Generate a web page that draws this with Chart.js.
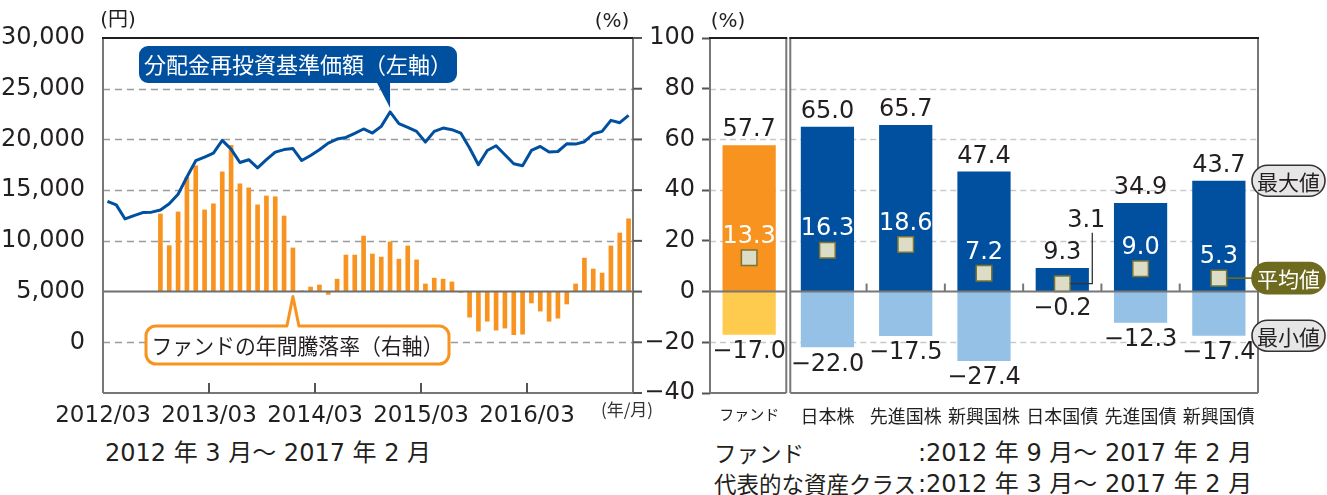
<!DOCTYPE html>
<html lang="ja">
<head>
<meta charset="utf-8">
<script src="https://cdn.jsdelivr.net/npm/chart.js@4.4.1/dist/chart.umd.min.js"></script>
<style>
html, body { margin: 0; padding: 0; background: #fff; }
body { width: 1327px; height: 495px; position: relative; overflow: hidden;
       font-family: "DejaVu Sans", "Noto Sans CJK JP", sans-serif; color: #231f20; }
canvas { position: absolute; top: 0; }
#navChart { left: 0; }
#rangeChart { left: 640px; }
.note { position: absolute; font-size: 24px; line-height: 28px; white-space: nowrap; }
.note.jp { font-size: 22.5px; font-family: "Noto Sans CJK JP", sans-serif; }
</style>
</head>
<body>
<canvas id="navChart" width="660" height="430"></canvas>
<canvas id="rangeChart" width="687" height="430"></canvas>
<div class="note" style="left:105px; top:439px;">2012 年 3 月〜 2017 年 2 月</div>
<div class="note jp" style="left:714px; top:438px;">ファンド</div>
<div class="note" style="left:918px; top:439px;">:2012 年 9 月〜 2017 年 2 月</div>
<div class="note jp" style="left:714px; top:469px;">代表的な資産クラス</div>
<div class="note" style="left:918px; top:470px;">:2012 年 3 月〜 2017 年 2 月</div>
<script>
// 月次ラベル 2012/03 〜 2017/02
const months = [];
for (let k = 0; k < 60; k++) {
    const t = 2 + k;
    months.push((2012 + Math.floor(t / 12)) + '/' + String(t % 12 + 1).padStart(2, '0'));
}

// 分配金再投資基準価額(円)
const navValues = [
    13900, 13550, 12160, 12490, 12790, 12830, 13050, 13650, 14600, 16290,
    17900, 18260, 18660, 19900, 19050, 17730, 18000, 17200, 18000, 18750,
    19000, 19100, 17920, 18420, 18980, 19640, 20040, 20200, 20600, 21030,
    20630, 21290, 22710, 21550, 21190, 20790, 19740, 20790, 21120, 20960,
    20630, 19150, 17500, 18910, 19380, 18490, 17600, 17400, 18910, 19310,
    18750, 18810, 19570, 19540, 19770, 20560, 20790, 21880, 21650, 22370
];

// ファンドの年間騰落率(%)
const fundReturns = [
    null, null, null, null, null, null,
    30.6, 18.1, 31.4, 45.1, 49.6, 32.2, 34.6, 47.2, 57.7, 42.5, 40.9, 34.2, 37.7, 37.4,
    29.8, 17.2, 0.3, 1.8, 2.6, -1.1, 4.9, 14.4, 14.4, 21.9, 14.8, 13.6, 19.6, 12.8, 18.0, 12.5, 3.0, 5.3, 4.9, 3.8,
    -0.3, -10.1, -15.6, -11.7, -15.2, -14.4, -17.0, -16.8, -4.5, -7.7, -11.7, -10.5, -4.9, 3.0, 13.2, 8.9, 7.3, 18.0, 23.1, 28.7
];

// 資産クラス比較
const assetClasses = ['ファンド', '日本株', '先進国株', '新興国株', '日本国債', '先進国債', '新興国債'];
const maxReturns = [57.7, 65.0, 65.7, 47.4, 9.3, 34.9, 43.7];
const avgReturns = [13.3, 16.3, 18.6, 7.2, 3.1, 9.0, 5.3];
const minReturns = [-17.0, -22.0, -17.5, -27.4, -0.2, -12.3, -17.4];

const ORANGE = '#F7931E', YELLOW = '#FFCB4F', NAVY = '#00509F', SKY = '#95C1E6', INK = '#231F20';
const FONT = '"DejaVu Sans", "Noto Sans CJK JP", sans-serif';
const JP = '"Noto Sans CJK JP", "DejaVu Sans", sans-serif';

Chart.defaults.font.family = FONT;
Chart.defaults.color = INK;

function line(ctx, x1, y1, x2, y2) {
    ctx.beginPath();
    ctx.moveTo(x1, y1);
    ctx.lineTo(x2, y2);
    ctx.stroke();
}

function label(ctx, str, x, y, font, color, maxW) {
    ctx.font = font;
    ctx.fillStyle = color;
    ctx.textAlign = 'center';
    ctx.textBaseline = 'middle';
    if (maxW) ctx.fillText(str, x, y, maxW);
    else ctx.fillText(str, x, y);
}

function fmt(v) {
    return (v < 0 ? '−' : '') + Math.abs(v).toFixed(1);
}

const navDecor = {
    id: 'navDecor',
    beforeDatasetsDraw(chart) {
        const { ctx, chartArea: a, scales: { y } } = chart;
        ctx.save();
        ctx.strokeStyle = '#9b9b9b';
        ctx.lineWidth = 1.3;
        ctx.setLineDash([7, 5]);
        y.ticks.forEach(t => {
            if (t.value <= y.min || t.value >= y.max || t.value === 5000) return;
            const py = Math.round(y.getPixelForValue(t.value)) + 0.5;
            line(ctx, a.left, py, a.right, py);
        });
        ctx.restore();
    },
    afterDatasetsDraw(chart) {
        const { ctx, chartArea: a, scales: { x, y1 } } = chart;
        ctx.save();
        ctx.lineWidth = 2;
        // 騰落率の0%ライン
        const z = y1.getPixelForValue(0);
        ctx.strokeStyle = '#6f6f6f';
        line(ctx, a.left, z, a.right, z);
        // 枠
        ctx.strokeStyle = '#777';
        line(ctx, a.left, a.top, a.left, a.bottom);
        line(ctx, a.right, a.top, a.right, a.bottom);
        line(ctx, a.left, a.bottom, a.right, a.bottom);
        ctx.strokeStyle = INK;
        line(ctx, a.left - 1, a.top, a.right + 1, a.top);
        // 年の目盛り(内向き)
        ctx.strokeStyle = '#555';
        x.ticks.forEach(t => {
            if (t.value <= x.min || t.value >= x.max) return;
            const px = x.getPixelForValue(t.value);
            line(ctx, px, a.bottom, px, a.bottom - 10);
        });
        // 右軸(%)の目盛り
        for (let v = y1.min; v <= y1.max; v += 20) {
            const py = y1.getPixelForValue(v);
            line(ctx, a.right, py, a.right + 9, py);
        }
        ctx.restore();
    },
    afterDraw(chart) {
        const { ctx, scales: { x, y, y1 } } = chart;
        ctx.save();
        label(ctx, '(円)', 118, 21, '20px ' + FONT, INK);
        label(ctx, '(%)', 612, 22, '20px ' + FONT, INK);
        label(ctx, '(年/月)', 627, 410, '17px ' + JP, '#333');

        // 基準価額の吹き出し
        const peak = 32;
        const tx = x.getPixelForValue(peak + 0.5);
        const ty = y.getPixelForValue(navValues[peak]) - 4;
        let l = 139, t = 46, r = 457, b = 83, rad = 9;
        ctx.beginPath();
        ctx.moveTo(l + rad, t);
        ctx.arcTo(r, t, r, b, rad);
        ctx.arcTo(r, b, l, b, rad);
        ctx.lineTo(tx, b);
        ctx.lineTo(tx, ty);
        ctx.lineTo(tx - 13, b);
        ctx.arcTo(l, b, l, t, rad);
        ctx.arcTo(l, t, r, t, rad);
        ctx.closePath();
        ctx.fillStyle = NAVY;
        ctx.fill();
        label(ctx, '分配金再投資基準価額（左軸）', (l + r) / 2, 65, '22px ' + JP, '#fff', 308);

        // 騰落率の吹き出し
        const bi = 21;
        const bx = x.getPixelForValue(bi + 0.5);
        const by = y1.getPixelForValue(0) + 5;
        l = 146; t = 326; r = 449; b = 364; rad = 10;
        ctx.beginPath();
        ctx.moveTo(l + rad, t);
        ctx.lineTo(bx - 6, t);
        ctx.lineTo(bx, by);
        ctx.lineTo(bx + 6, t);
        ctx.arcTo(r, t, r, b, rad);
        ctx.arcTo(r, b, l, b, rad);
        ctx.arcTo(l, b, l, t, rad);
        ctx.arcTo(l, t, r, t, rad);
        ctx.closePath();
        ctx.fillStyle = '#fff';
        ctx.fill();
        ctx.lineWidth = 3;
        ctx.lineJoin = 'round';
        ctx.strokeStyle = ORANGE;
        ctx.stroke();
        label(ctx, 'ファンドの年間騰落率（右軸）', (l + r) / 2, 345.5, '22px ' + JP, INK, 292);
        ctx.restore();
    }
};

new Chart(document.getElementById('navChart'), {
    type: 'line',
    data: {
        datasets: [{
            type: 'line',
            label: '分配金再投資基準価額',
            data: navValues.map((v, i) => ({ x: i + 0.5, y: v })),
            yAxisID: 'y',
            borderColor: NAVY,
            borderWidth: 3,
            borderJoinStyle: 'round',
            pointRadius: 0,
            tension: 0,
            order: 1
        }, {
            type: 'bar',
            label: 'ファンドの年間騰落率',
            data: fundReturns.map((v, i) => ({ x: i + 0.5, y: v })),
            yAxisID: 'y1',
            backgroundColor: ORANGE,
            barThickness: 4,
            order: 2
        }]
    },
    options: {
        responsive: false,
        animation: false,
        devicePixelRatio: 1,
        layout: { padding: { left: 0, right: 27, top: 38, bottom: 0 } },
        plugins: { legend: { display: false }, tooltip: { enabled: false } },
        scales: {
            x: {
                type: 'linear',
                min: 0,
                max: 60,
                offset: false,
                grid: { display: false },
                border: { display: false },
                ticks: {
                    stepSize: 12,
                    autoSkip: false,
                    maxRotation: 0,
                    padding: 1,
                    color: INK,
                    font: { size: 23 },
                    callback: v => (v < 60 && v % 12 === 0) ? months[v] : ''
                },
                afterFit: s => { s.height = 37; }
            },
            y: {
                position: 'left',
                min: -5000,
                max: 30000,
                grid: { display: false },
                border: { display: false },
                ticks: {
                    stepSize: 5000,
                    padding: 10,
                    color: INK,
                    font: { size: 24 },
                    callback: v => v < 0 ? '' : v.toLocaleString('en-US')
                },
                afterFit: s => { s.width = 103; }
            },
            y1: {
                position: 'right',
                display: false,
                min: -40,
                max: 100
            }
        }
    },
    plugins: [navDecor]
});

function pill(ctx, text, cy, left, fill, color, stroke, fromX) {
    const w = 73, h = 31, r = h / 2;
    const t = cy - h / 2, b = cy + h / 2, rt = left + w;
    ctx.strokeStyle = stroke;
    ctx.lineWidth = 1.6;
    line(ctx, fromX, cy, left, cy);
    ctx.beginPath();
    ctx.moveTo(left + r, t);
    ctx.arcTo(rt, t, rt, b, r);
    ctx.arcTo(rt, b, left, b, r);
    ctx.arcTo(left, b, left, t, r);
    ctx.arcTo(left, t, rt, t, r);
    ctx.closePath();
    ctx.fillStyle = fill;
    ctx.fill();
    ctx.stroke();
    label(ctx, text, left + w / 2, cy + 1, '21px ' + JP, color);
}

const rangeDecor = {
    id: 'rangeDecor',
    beforeDatasetsDraw(chart) {
        const { ctx, chartArea: a, scales: { x, y } } = chart;
        const split = (x.getPixelForValue(0) + x.getPixelForValue(1)) / 2;
        ctx.save();
        ctx.strokeStyle = '#c9c9c9';
        ctx.lineWidth = 1.3;
        ctx.setLineDash([6, 4]);
        y.ticks.forEach(t => {
            if (t.value <= y.min || t.value >= y.max || t.value === 0) return;
            const py = Math.round(y.getPixelForValue(t.value)) + 0.5;
            line(ctx, a.left, py, split - 2, py);
            line(ctx, split + 2, py, a.right, py);
        });
        ctx.restore();
    },
    afterDatasetsDraw(chart) {
        const { ctx, chartArea: a, scales: { x, y } } = chart;
        const split = (x.getPixelForValue(0) + x.getPixelForValue(1)) / 2;
        const z = y.getPixelForValue(0);
        ctx.save();
        ctx.lineWidth = 2;
        ctx.strokeStyle = '#777';
        line(ctx, a.left, z, split - 2, z);
        line(ctx, split + 2, z, a.right, z);
        for (let i = 1; i < assetClasses.length - 1; i++) {
            const bx = (x.getPixelForValue(i) + x.getPixelForValue(i + 1)) / 2;
            line(ctx, bx, z, bx, z - 8);
        }
        [[a.left, split - 2], [split + 2, a.right]].forEach(([l, r]) => {
            ctx.strokeStyle = '#777';
            line(ctx, l, a.top, l, a.bottom);
            line(ctx, r, a.top, r, a.bottom);
            line(ctx, l, a.bottom, r, a.bottom);
            ctx.strokeStyle = INK;
            line(ctx, l - 1, a.top, r + 1, a.top);
        });

        const half = chart.getDatasetMeta(0).data[0].width / 2;
        assetClasses.forEach((c, i) => {
            const cx = x.getPixelForValue(i);
            label(ctx, fmt(maxReturns[i]), cx, y.getPixelForValue(maxReturns[i]) - 15, '24px ' + FONT, INK);
            label(ctx, fmt(minReturns[i]), cx, y.getPixelForValue(minReturns[i]) + 17, '24px ' + FONT, INK);
            const ay = y.getPixelForValue(avgReturns[i]);
            if (avgReturns[i] < 5 && maxReturns[i] < 15) {
                ctx.strokeStyle = '#333';
                ctx.lineWidth = 1.3;
                ctx.beginPath();
                ctx.moveTo(cx + 8, ay);
                ctx.lineTo(cx + 30, ay);
                ctx.lineTo(cx + 30, ay - 51);
                ctx.stroke();
                label(ctx, fmt(avgReturns[i]), cx + 24, ay - 63, '24px ' + FONT, INK);
            } else {
                label(ctx, fmt(avgReturns[i]), cx, ay - 21, '24px ' + FONT, '#fff');
            }
        });

        const last = assetClasses.length - 1;
        const lx = x.getPixelForValue(last);
        const pl = a.right - 6;
        pill(ctx, '最大値', y.getPixelForValue(maxReturns[last]), pl, '#e6e6e6', INK, '#333', lx + half - 8);
        pill(ctx, '平均値', y.getPixelForValue(avgReturns[last]), pl, '#6e6b1f', '#fff', '#6e6b1f', lx + 8);
        pill(ctx, '最小値', y.getPixelForValue(minReturns[last]), pl, '#e6e6e6', INK, '#333', lx + half - 8);
        ctx.restore();
    },
    afterDraw(chart) {
        const { ctx } = chart;
        ctx.save();
        label(ctx, '(%)', 88, 22, '20px ' + FONT, INK);
        ctx.restore();
    }
};

new Chart(document.getElementById('rangeChart'), {
    type: 'bar',
    data: {
        labels: assetClasses,
        datasets: [{
            type: 'line',
            label: '平均値',
            data: avgReturns,
            showLine: false,
            pointStyle: 'rect',
            pointRadius: 11,
            pointBackgroundColor: '#dddcc6',
            pointBorderColor: '#7a7430',
            pointBorderWidth: 1.5,
            order: 0
        }, {
            label: '最大値',
            data: maxReturns,
            backgroundColor: assetClasses.map((c, i) => i === 0 ? ORANGE : NAVY),
            grouped: false,
            barPercentage: 0.68,
            categoryPercentage: 1,
            order: 1
        }, {
            label: '最小値',
            data: minReturns,
            backgroundColor: assetClasses.map((c, i) => i === 0 ? YELLOW : SKY),
            grouped: false,
            barPercentage: 0.68,
            categoryPercentage: 1,
            order: 2
        }]
    },
    options: {
        responsive: false,
        animation: false,
        devicePixelRatio: 1,
        layout: { padding: { left: 0, right: 69, top: 38, bottom: 0 } },
        plugins: { legend: { display: false }, tooltip: { enabled: false } },
        scales: {
            x: {
                grid: { display: false },
                border: { display: false },
                ticks: {
                    padding: 4,
                    color: INK,
                    maxRotation: 0,
                    autoSkip: false,
                    font: ctx => ({ size: ctx.index === 0 ? 15 : 18, family: JP })
                },
                afterFit: s => { s.height = 37; }
            },
            y: {
                min: -40,
                max: 100,
                grid: { drawOnChartArea: false, drawTicks: true, tickLength: 8, tickColor: '#555', tickWidth: 2 },
                border: { display: false },
                ticks: {
                    stepSize: 20,
                    padding: 7,
                    color: INK,
                    font: { size: 24 },
                    callback: v => v < 0 ? '−' + Math.abs(v) : String(v)
                },
                afterFit: s => { s.width = 70; }
            }
        }
    },
    plugins: [rangeDecor]
});
</script>
</body>
</html>
